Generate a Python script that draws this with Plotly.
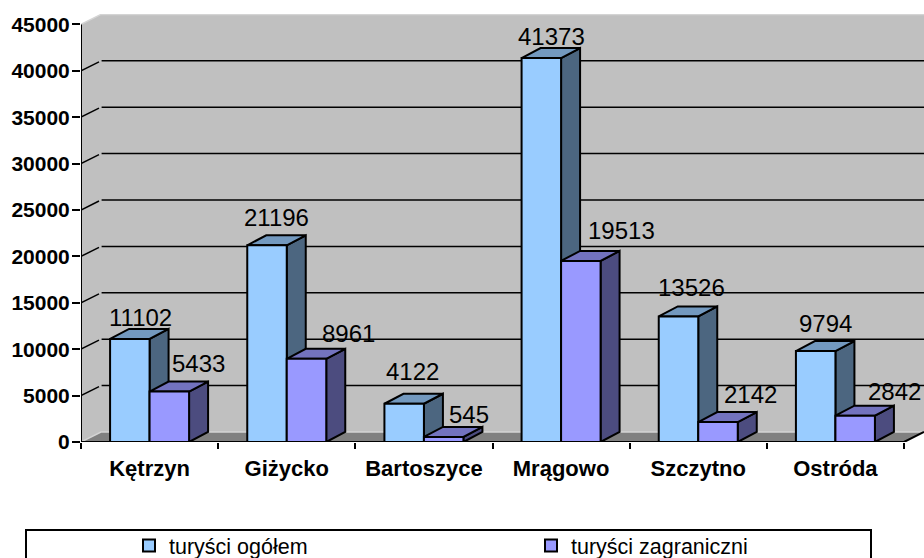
import plotly.graph_objects as go

categories = ["Kętrzyn", "Giżycko", "Bartoszyce", "Mrągowo", "Szczytno", "Ostróda"]
series_total_name = "turyści ogółem"
series_foreign_name = "turyści zagraniczni"
total_values = [11102, 21196, 4122, 41373, 13526, 9794]
foreign_values = [5433, 8961, 545, 19513, 2142, 2842]
y_ticks = [0, 5000, 10000, 15000, 20000, 25000, 30000, 35000, 40000, 45000]

# Label nudges (pixels), layout only
total_label_dx = [11, 9, 8, 10, 13, 10]
total_label_dy = [21, 28, 32, 22, 29, 28]
foreign_label_dx = [29, 42, 25, 41, 32, 39]
foreign_label_dy = [28, 25, 22, 30, 28, 24]

W, H = 924, 558
L, T, B = 81, 14, 442
CAT_PX = (904 - 81) / 6
UNIT_PX = 46.4 / 5000
x_max = (W - L) / CAT_PX
y_max = (B - T) / UNIT_PX
BAR_W = 39.5 / CAT_PX


def ux(px):
    return px / CAT_PX


def uy(px):
    return px / UNIT_PX


WALL_DX, WALL_DY = ux(20), uy(10)
BAR_DX, BAR_DY = ux(19), uy(10)
n = len(categories)
centers = [i + 0.5 for i in range(n)]


def paper_x(px):
    return (px - L) / (W - L)


def paper_y(py):
    return (B - py) / (B - T)


def polys(shapes_list):
    xs, ys = [], []
    for poly in shapes_list:
        xs += [p[0] for p in poly] + [poly[0][0], None]
        ys += [p[1] for p in poly] + [poly[0][1], None]
    return xs, ys


def path(points):
    return "M" + " L".join(f"{x},{y}" for x, y in points) + " Z"


fig = go.Figure()

# Fronts of the bars
fig.add_trace(go.Bar(x=centers, y=total_values, name=series_total_name, width=BAR_W, offset=-BAR_W,
                     legend="legend",
                     marker=dict(color="#99CCFF", line=dict(color="black", width=2)), zorder=5))
fig.add_trace(go.Bar(x=centers, y=foreign_values, name=series_foreign_name, width=BAR_W, offset=0,
                     legend="legend2",
                     marker=dict(color="#9999FF", line=dict(color="black", width=2)), zorder=5))

# Wall gridlines
gx, gy = [], []
for v in y_ticks[1:-1]:
    gx += [0, WALL_DX * 0.9, None, WALL_DX * 1.03, x_max, None]
    gy += [v, v + WALL_DY * 0.9, None, v + WALL_DY, v + WALL_DY, None]
fig.add_trace(go.Scatter(x=gx, y=gy, mode="lines", line=dict(color="black", width=1.5),
                         hoverinfo="skip", showlegend=False, zorder=1))

# Light wall edges
fig.add_trace(go.Scatter(
    x=[0, WALL_DX, x_max, None, 0, WALL_DX, x_max],
    y=[45000, 45000 + WALL_DY, 45000 + WALL_DY, None, 0, WALL_DY, WALL_DY],
    mode="lines", line=dict(color="#d4d4d4", width=1.5), hoverinfo="skip", showlegend=False, zorder=1))

# Axis lines
fig.add_trace(go.Scatter(
    x=[0, 0, None, 0, 6, 6 + WALL_DX],
    y=[0, 45000, None, 0, 0, WALL_DY],
    mode="lines", line=dict(color="black", width=2), hoverinfo="skip", showlegend=False, zorder=6))


def add_faces(color, poly_list, z):
    xs, ys = polys(poly_list)
    fig.add_trace(go.Scatter(x=xs, y=ys, mode="lines", fill="toself", fillcolor=color,
                             line=dict(color="black", width=2), hoverinfo="skip",
                             showlegend=False, zorder=z))


total_side, total_top, foreign_side, foreign_top = [], [], [], []
for c, t, f in zip(centers, total_values, foreign_values):
    total_top.append([(c - BAR_W, t), (c - BAR_W + BAR_DX, t + BAR_DY), (c + BAR_DX, t + BAR_DY), (c, t)])
    total_side.append([(c, 0), (c, t), (c + BAR_DX, t + BAR_DY), (c + BAR_DX, BAR_DY)])
    foreign_top.append([(c, f), (c + BAR_DX, f + BAR_DY), (c + BAR_W + BAR_DX, f + BAR_DY), (c + BAR_W, f)])
    foreign_side.append([(c + BAR_W, 0), (c + BAR_W, f), (c + BAR_W + BAR_DX, f + BAR_DY), (c + BAR_W + BAR_DX, BAR_DY)])

add_faces("#4C6680", total_side, 2)
add_faces("#7399BF", total_top, 2)
add_faces("#4C4C7F", foreign_side, 3)
add_faces("#7373BF", foreign_top, 3)

# Walls and floor
shapes = [
    dict(type="path", xref="x", yref="y", layer="below", line=dict(width=0), fillcolor="#C0C0C0",
         path=path([(0, 0), (0, 45000), (WALL_DX, 45000 + WALL_DY), (x_max, 45000 + WALL_DY), (x_max, WALL_DY), (6 + WALL_DX, WALL_DY), (6, 0)])),
    dict(type="path", xref="x", yref="y", layer="below", line=dict(width=0), fillcolor="#808080",
         path=path([(0, 0), (WALL_DX, WALL_DY), (6 + WALL_DX, WALL_DY), (6, 0)])),
    dict(type="rect", xref="paper", yref="paper", layer="below",
         x0=paper_x(26), x1=paper_x(871), y0=paper_y(566), y1=paper_y(530),
         line=dict(color="black", width=2), fillcolor="white"),
]

# Data labels
annotations = []
for c, vals, dxs, dys, off in [
    (centers, total_values, total_label_dx, total_label_dy, -BAR_W / 2),
    (centers, foreign_values, foreign_label_dx, foreign_label_dy, BAR_W / 2),
]:
    for cx, v, dx, dy in zip(c, vals, dxs, dys):
        annotations.append(dict(x=cx + off, y=v, xref="x", yref="y", text=str(v), showarrow=False,
                                xshift=dx, yshift=dy, xanchor="center", yanchor="middle",
                                font=dict(family="Liberation Sans", size=24, color="black")))

legend_style = dict(orientation="h", xanchor="left", yanchor="top", y=paper_y(525),
                    bgcolor="rgba(0,0,0,0)", borderwidth=0,
                    font=dict(family="Liberation Sans", size=21.5, color="black"))

fig.update_layout(
    width=W, height=H, margin=dict(l=L, r=0, t=T, b=H - B, pad=0, autoexpand=False),
    paper_bgcolor="white", plot_bgcolor="white",
    barmode="overlay", shapes=shapes, annotations=annotations,
    font=dict(family="Liberation Sans", color="black"),
    xaxis=dict(range=[0, x_max], tickmode="array", tickvals=centers, ticktext=categories,
               ticks="", showgrid=False, zeroline=False, showline=False, ticklabelstandoff=11,
               tickfont=dict(size=22, family="Liberation Sans", weight="bold"),
               minor=dict(tickmode="array", tickvals=list(range(n + 1)), ticks="outside", ticklen=6,
                          tickwidth=2, tickcolor="black", showgrid=False)),
    yaxis=dict(range=[0, y_max], tickmode="array", tickvals=y_ticks, ticktext=[str(v) for v in y_ticks],
               ticks="outside", ticklen=8, tickwidth=2, tickcolor="black", showgrid=False, zeroline=False,
               showline=False, ticklabelstandoff=-2,
               tickfont=dict(size=21, family="Liberation Sans", weight="bold")),
    legend=dict(x=paper_x(129), **legend_style),
    legend2=dict(x=paper_x(531), **legend_style),
)

fig.write_html("out.html", config=dict(displayModeBar=False),
               post_script="document.body.style.margin='0';document.documentElement.style.overflow='hidden';")
